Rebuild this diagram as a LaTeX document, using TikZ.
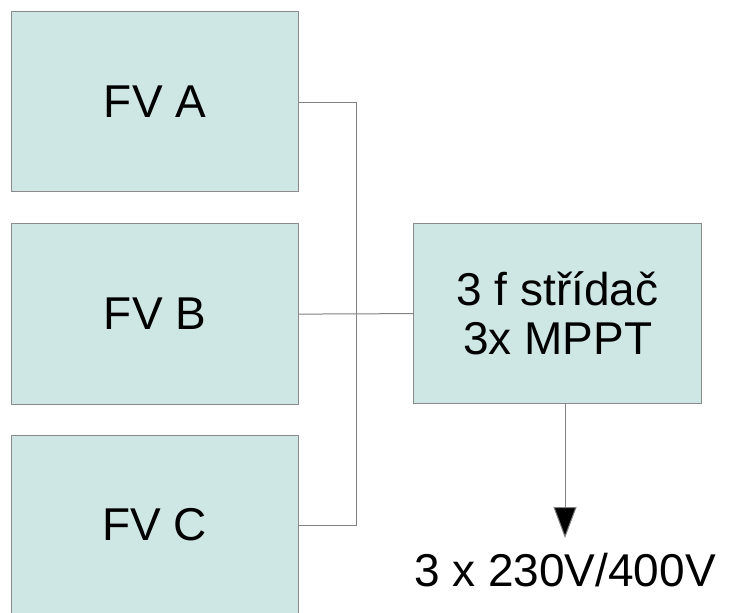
\documentclass[tikz,border=0pt]{standalone}
\usepackage{fontspec}
\setmainfont{Liberation Sans}
\usetikzlibrary{arrows.meta}
\definecolor{boxfill}{HTML}{CFE7E4}
\definecolor{boxline}{HTML}{8A8A8A}
\definecolor{wire}{HTML}{808080}
\tikzset{
  blk/.style={draw=boxline, fill=boxfill, line width=1.2pt, inner sep=0pt},
  wireline/.style={draw=wire, line width=1pt},
  lbl/.style={font=\fontsize{46}{49}\selectfont, align=center}
}
\begin{document}
\begin{tikzpicture}[x=1pt,y=-1pt]
\useasboundingbox (0,0) rectangle (734,613);
\clip (0,0) rectangle (734,613);
\node[blk, minimum width=287pt, minimum height=180pt, anchor=north west] (A) at (11,11) {};
\node[blk, minimum width=287pt, minimum height=181pt, anchor=north west] (B) at (11,223) {};
\node[blk, minimum width=287pt, minimum height=200pt, anchor=north west] (C) at (11,435) {};
\node[blk, minimum width=288pt, minimum height=180pt, anchor=north west] (D) at (413,223) {};
\node[lbl] (At) at (A.center) {FV A};
\node[lbl] (Bt) at (B.center) {FV B};
\node[lbl] (Ctxt) at (154.5,525) {FV C};
\node[lbl] (Dt) at (D.center) {3 f střídač\\3x MPPT};
\coordinate (bus) at (356,102);
\coordinate (cin) at (298,525);
\draw[wireline] (A.east |- bus) -- (bus) -- (bus |- cin) -- (cin);
\draw[wireline] (B.east) -- (D.west);
\node[lbl, anchor=center] (out) at (565,570) {3 x 230V/400V};
\coordinate (tip) at (565,538);
\draw[wireline, -{Triangle[length=31pt,width=23pt,fill=black]}] (D.south -| tip) -- (tip);
\end{tikzpicture}
\end{document}
